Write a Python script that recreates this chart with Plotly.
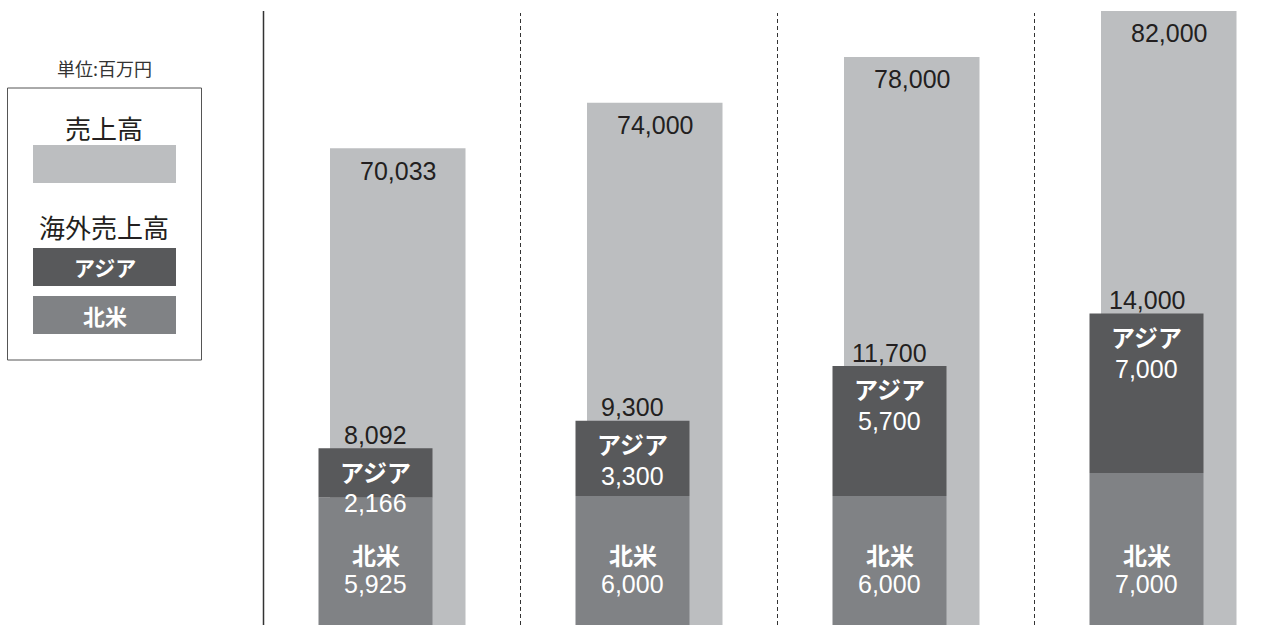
import plotly.graph_objects as go

# ---- data ----
years = ["FY1", "FY2", "FY3", "FY4"]
sales = [70033, 74000, 78000, 82000]
north_america = [5925, 6000, 6000, 7000]
asia = [2166, 3300, 5700, 7000]
overseas_total = [8092, 9300, 11700, 14000]

sales_labels = ["70,033", "74,000", "78,000", "82,000"]
na_labels = ["5,925", "6,000", "6,000", "7,000"]
asia_labels = ["2,166", "3,300", "5,700", "7,000"]
total_labels = ["8,092", "9,300", "11,700", "14,000"]

# ---- style ----
W, H = 1280, 625
C_SALES = "#BCBEC0"
C_ASIA = "#58595B"
C_NA = "#808285"
C_TXT = "#231F20"
NUM_FONT = "Liberation Sans, Arial, sans-serif"
JP_FONT = "Noto Sans CJK JP, sans-serif"

UNIT = 257.0
CENTER0 = 392.0
x0 = -CENTER0 / UNIT
x1 = x0 + W / UNIT

xs = list(range(len(years)))

fig = go.Figure()

fig.add_trace(go.Bar(
    x=xs, y=sales, yaxis="y", marker=dict(color=C_SALES, line=dict(width=0)),
    width=135.5 / UNIT, offset=-62 / UNIT, hoverinfo="skip", name="売上高"))
fig.add_trace(go.Bar(
    x=xs, y=north_america, yaxis="y2", marker=dict(color=C_NA, line=dict(width=0)),
    width=114 / UNIT, offset=-73.5 / UNIT, hoverinfo="skip", name="北米"))
fig.add_trace(go.Bar(
    x=xs, y=asia, base=north_america, yaxis="y2", marker=dict(color=C_ASIA, line=dict(width=0)),
    width=114 / UNIT, offset=-73.5 / UNIT, hoverinfo="skip", name="アジア"))

ann = []
stack_cx = (-73.5 + 57) / UNIT
sales_cx = (-62 + 67.75) / UNIT


def label(x, y, text, xref, yref, yshift, family, size, color):
    return dict(x=x, y=y, xref=xref, yref=yref, text=text, showarrow=False,
                xanchor="center", yanchor="middle", yshift=yshift,
                font=dict(family=family, size=size, color=color))


for i in xs:
    ann.append(label(i + sales_cx, sales[i], sales_labels[i], "x", "y", -22.4, NUM_FONT, 25, C_TXT))
    ann.append(label(i + stack_cx, overseas_total[i], total_labels[i], "x", "y2", 13.3, NUM_FONT, 25, C_TXT))
    ann.append(label(i + stack_cx, overseas_total[i], "<b>アジア</b>", "x", "y2", -23, JP_FONT, 24, "white"))
    ann.append(label(i + stack_cx, overseas_total[i], asia_labels[i], "x", "y2", -55, NUM_FONT, 25, "white"))
    ann.append(label(i + stack_cx, 0, "<b>北米</b>", "x", "paper", 71, JP_FONT, 24, "white"))
    ann.append(label(i + stack_cx, 0, na_labels[i], "x", "paper", 41, NUM_FONT, 25, "white"))


def px(x):
    return x / W


def py(y):
    return 1 - y / H


shapes = []
# separators
shapes.append(dict(type="line", xref="x", yref="paper", x0=-0.5, x1=-0.5, y0=0, y1=py(11),
                   line=dict(color="#333333", width=1.5)))
for i in xs[:-1]:
    shapes.append(dict(type="line", xref="x", yref="paper", x0=i + 0.5, x1=i + 0.5, y0=0, y1=py(13),
                       line=dict(color="#333333", width=1, dash="4px,3px")))

# legend box
shapes.append(dict(type="rect", xref="paper", yref="paper", x0=px(7.5), x1=px(201.5), y0=py(360), y1=py(88),
                   line=dict(color="#555555", width=1), fillcolor="rgba(0,0,0,0)"))
shapes.append(dict(type="rect", xref="paper", yref="paper", x0=px(33), x1=px(176), y0=py(183), y1=py(145),
                   line=dict(width=0), fillcolor=C_SALES))
shapes.append(dict(type="rect", xref="paper", yref="paper", x0=px(33), x1=px(176), y0=py(286), y1=py(248),
                   line=dict(width=0), fillcolor=C_ASIA))
shapes.append(dict(type="rect", xref="paper", yref="paper", x0=px(33), x1=px(176), y0=py(334), y1=py(296),
                   line=dict(width=0), fillcolor=C_NA))

ann.append(label(px(104), py(68), "単位:百万円", "paper", "paper", 0, JP_FONT, 18, "#333333"))
ann.append(label(px(103.5), py(128), "売上高", "paper", "paper", 0, JP_FONT, 26, C_TXT))
ann.append(label(px(104), py(227), "海外売上高", "paper", "paper", 0, JP_FONT, 26, C_TXT))
ann.append(label(px(104.5), py(267), "<b>アジア</b>", "paper", "paper", 0, JP_FONT, 21, "white"))
ann.append(label(px(104.5), py(315), "<b>北米</b>", "paper", "paper", 0, JP_FONT, 22, "white"))

axis_common = dict(showgrid=False, zeroline=False, showticklabels=False, ticks="", showline=False,
                   fixedrange=True)
fig.update_layout(
    width=W, height=H, margin=dict(l=0, r=0, t=0, b=0),
    paper_bgcolor="white", plot_bgcolor="white",
    barmode="overlay", showlegend=False,
    xaxis=dict(range=[x0, x1], domain=[0, 1], **axis_common),
    yaxis=dict(range=[28472, 82959], domain=[0, 1], **axis_common),
    yaxis2=dict(range=[338, 27750], overlaying="y", **axis_common),
    shapes=shapes, annotations=ann,
)

fig.write_html("out.html", config={"displayModeBar": False})
